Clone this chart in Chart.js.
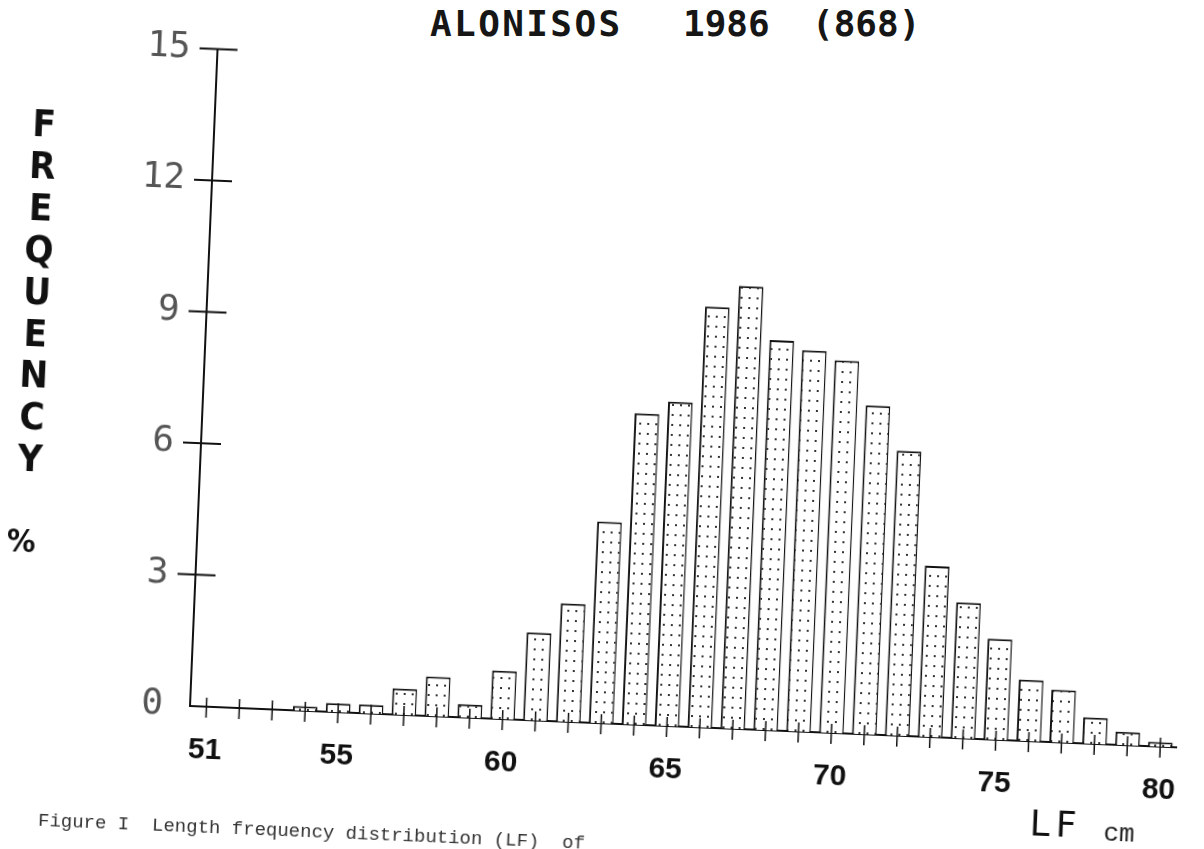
<!DOCTYPE html>
<html>
<head>
<meta charset="utf-8">
<title>ALONISOS 1986 (868)</title>
<script src="https://cdn.jsdelivr.net/npm/chart.js@4/dist/chart.umd.min.js"></script>
<style>
    html, body { margin: 0; padding: 0; background: #fff; overflow: hidden; }
    /* the scanned page sits a little crooked, so the whole sheet is turned */
    #page { position: absolute; left: 0; top: 0; width: 1204px; height: 849px;
            transform-origin: 190px 706px; transform: rotate(2.4deg); }
    #chart { position: absolute; left: 0; top: 0; }
    .txt { position: absolute; color: #111; white-space: pre; }
    .title { top: 6px; font-family: 'DejaVu Sans Mono', monospace; font-weight: bold;
             font-size: 36px; line-height: 36px; color: #161616; }
    #ytitle { left: 0; top: 110px; width: 40px; text-align: center; white-space: pre-line;
              font-family: 'Liberation Sans Narrow', 'DejaVu Sans Condensed', sans-serif;
              font-weight: bold; font-size: 38px; line-height: 41.9px; }
    #percent { left: 0; top: 528px; width: 24px; text-align: center;
               font-family: 'DejaVu Sans Condensed', sans-serif; font-weight: bold;
               font-size: 32px; line-height: 40px; }
    #caption { left: 43px; top: 815px; font-family: 'Liberation Mono', monospace;
               font-size: 19px; line-height: 24px; color: #333; }
    #lf { left: 1034px; top: 768px; font-family: 'DejaVu Sans', sans-serif;
          font-size: 36px; line-height: 40px; letter-spacing: 6px; }
    #cm { left: 1108px; top: 780px; font-family: 'Liberation Mono', monospace;
          font-size: 26px; line-height: 30px; color: #222; }
</style>
</head>
<body>
<div class="txt title" style="left:430px; letter-spacing:2.4px;">ALONISOS</div>
<div class="txt title" style="left:683px;">1986</div>
<div class="txt title" style="left:812px;">(868)</div>

<div id="page">
    <canvas id="chart" width="1204" height="849"></canvas>
    <div class="txt" id="ytitle">F
R
E
Q
U
E
N
C
Y</div>
    <div class="txt" id="percent">%</div>
    <div class="txt" id="caption">Figure I  Length frequency distribution (LF)  of</div>
    <div class="txt" id="lf">LF</div>
    <div class="txt" id="cm">cm</div>
</div>

<script>
const lengthClasses = ['51', '52', '53', '54', '55', '56', '57', '58', '59', '60',
                       '61', '62', '63', '64', '65', '66', '67', '68', '69', '70',
                       '71', '72', '73', '74', '75', '76', '77', '78', '79', '80'];

// percent of the 868 fish in each 1 cm class
const frequencies = [0, 0, 0, 0.1, 0.2, 0.2, 0.6, 0.9, 0.3, 1.1,
                     2.0, 2.7, 4.6, 7.1, 7.4, 9.6, 10.1, 8.9, 8.7, 8.5,
                     7.5, 6.5, 3.9, 3.1, 2.3, 1.4, 1.2, 0.6, 0.3, 0.1];

const xTickLabels = ['51', '55', '60', '65', '70', '75', '80'];
const yTickValues = [0, 3, 6, 9, 12, 15];

function dotPattern(ctx) {
    let tile = document.createElement('canvas');
    tile.width = 8;
    tile.height = 10;
    let t = tile.getContext('2d');
    t.fillStyle = '#fff';
    t.fillRect(0, 0, 8, 10);
    t.fillStyle = '#333';
    t.fillRect(3, 4, 2, 2);
    return ctx.createPattern(tile, 'repeat');
}

// "+" marks where the ticks cross the axes
const crossTicks = {
    id: 'crossTicks',
    afterDatasetsDraw(chart) {
        const ctx = chart.ctx;
        const x = chart.scales.x;
        const y = chart.scales.y;
        ctx.save();
        ctx.strokeStyle = '#111';
        ctx.lineWidth = 2;
        yTickValues.forEach(v => {
            if (v === 0) return;
            let py = y.getPixelForValue(v);
            ctx.beginPath();
            ctx.moveTo(x.left - 18, py);
            ctx.lineTo(x.left + 20, py);
            ctx.stroke();
        });
        ctx.lineWidth = 1.5;
        lengthClasses.forEach((c, i) => {
            let px = x.getPixelForValue(i);
            ctx.beginPath();
            ctx.moveTo(px, y.bottom - 9);
            ctx.lineTo(px, y.bottom + 11);
            ctx.stroke();
        });
        ctx.restore();
    }
};

const canvas = document.getElementById('chart');

const config = {
    type: 'bar',
    data: {
        labels: lengthClasses,
        datasets: [{
            data: frequencies,
            backgroundColor: dotPattern(canvas.getContext('2d')),
            borderColor: '#111',
            borderWidth: {top: 2, left: 2, right: 1.5, bottom: 0},
            barPercentage: 0.75,
            categoryPercentage: 1
        }]
    },
    options: {
        responsive: false,
        animation: false,
        layout: {
            padding: {left: 0, top: 28, right: 14, bottom: 0}
        },
        plugins: {
            legend: {display: false},
            tooltip: {enabled: false}
        },
        scales: {
            x: {
                offset: true,
                grid: {display: false, drawTicks: false},
                border: {display: true, color: '#111', width: 2, dash: [2, 6]},
                ticks: {
                    autoSkip: false,
                    maxRotation: 0,
                    padding: 26,
                    color: '#111',
                    font: {family: 'Liberation Sans', size: 30, weight: 'bold'},
                    callback: function (value) {
                        let label = this.getLabelForValue(value);
                        return xTickLabels.includes(label) ? label : '';
                    }
                },
                afterFit: scale => { scale.height = 143; }
            },
            y: {
                min: 0,
                max: 15,
                grid: {display: false, drawTicks: false},
                border: {display: true, color: '#111', width: 2},
                ticks: {
                    stepSize: 3,
                    padding: 27,
                    color: '#555',
                    font: {family: 'DejaVu Sans Mono', size: 36}
                },
                afterFit: scale => { scale.width = 190; }
            }
        }
    },
    plugins: [crossTicks]
};

new Chart(canvas, config);
</script>
</body>
</html>
